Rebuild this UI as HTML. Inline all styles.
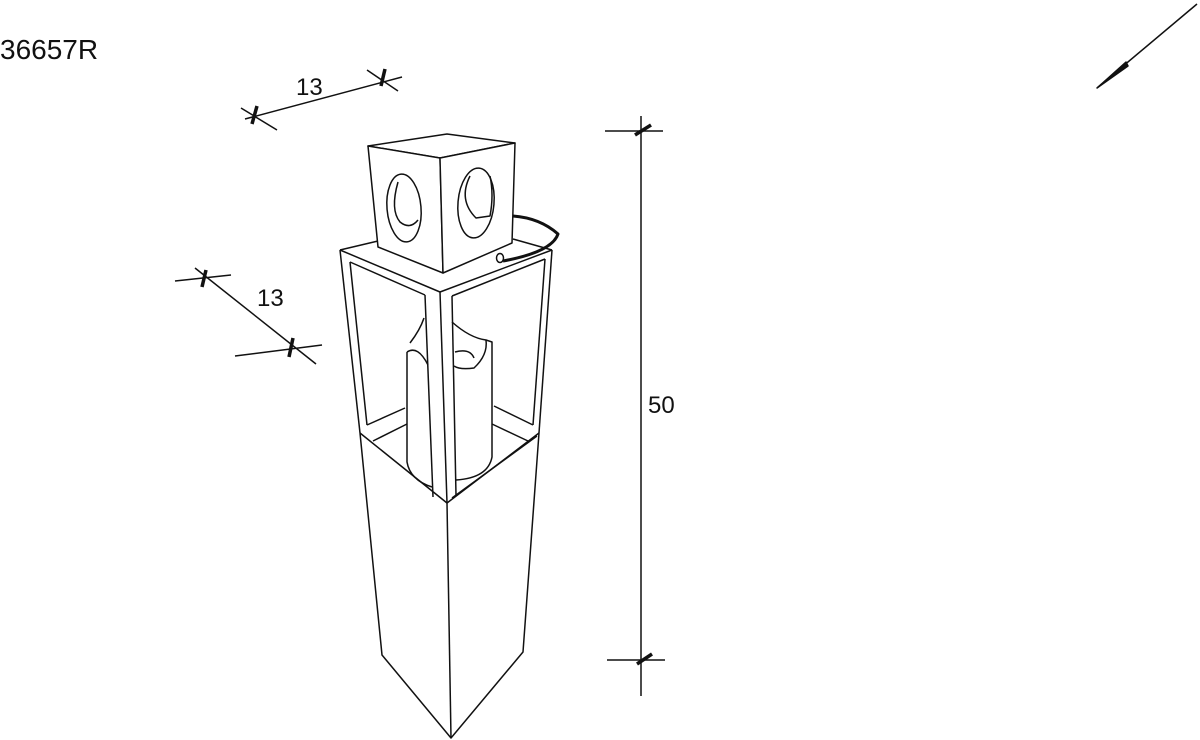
<!DOCTYPE html>
<html><head><style>
html,body{margin:0;padding:0;background:#fff;}
svg{display:block;}
text{font-family:"Liberation Sans",Arial,sans-serif;fill:#111;}
</style></head><body>
<svg width="1200" height="740" viewBox="0 0 1200 740" xmlns="http://www.w3.org/2000/svg">
<text x="0" y="59" font-size="28">36657R</text>

<g stroke="#111" stroke-width="1.5" fill="none" stroke-linejoin="round">
<line x1="1097" y1="88" x2="1197" y2="4"/>
<path d="M1097 88 L1126 62 L1128 66 Z" fill="#111"/>

<line x1="245" y1="119" x2="402" y2="77"/>
<line x1="241" y1="108" x2="277" y2="130"/>
<line x1="367" y1="70" x2="398" y2="91"/>
<line x1="257" y1="106" x2="252" y2="124" stroke-width="3.5"/>
<line x1="385" y1="69" x2="381" y2="86" stroke-width="3.5"/>
<line x1="195" y1="268" x2="316" y2="364"/>
<line x1="175" y1="281" x2="231" y2="275"/>
<line x1="235" y1="356" x2="322" y2="345"/>
<line x1="206" y1="270" x2="202" y2="287" stroke-width="3.5"/>
<line x1="293" y1="338" x2="289" y2="357" stroke-width="3.5"/>
<line x1="641" y1="116" x2="641" y2="696"/>
<line x1="605" y1="131" x2="663" y2="131"/>
<line x1="607" y1="660" x2="665" y2="660"/>
<line x1="635" y1="135" x2="651" y2="125" stroke-width="3.5"/>
<line x1="637" y1="664" x2="652" y2="654" stroke-width="3.5"/>

<path d="M340 250 L378 241"/>
<path d="M513 239 L552 250"/>
<path d="M340 250 L440 292 L552 250"/>
<path d="M340 250 L360 433"/>
<path d="M552 250 L539 433"/>
<path d="M350 262 L425 295"/>
<path d="M452 296 L545 259"/>
<path d="M350 262 L367 425"/>
<path d="M425 295 L433 497"/>
<path d="M545 259 L533 425"/>
<path d="M452 296 L456 495"/>
<path d="M440 292 L447 503"/>
<path d="M367 425 L405 408"/>
<path d="M373 441 L407 424"/>
<path d="M533 425 L494 406"/>
<path d="M528 441 L492 424"/>
<path d="M360 433 L447 503 L539 433"/>
<path d="M360 433 L382 655 L451 738 L523 652 L539 433"/>
<path d="M447 503 L451 738"/>
<path d="M452 498 L537 436"/>

<path d="M407 352 L407 462 Q410 480 432 487"/>
<path d="M407 352 Q418 345 428 365"/>
<path d="M410 343 Q420 330 424 318"/>
<path d="M452 322 Q470 338 486 340 L492 342 L492 457 Q488 478 456 480"/>
<path d="M486 340 Q488 355 474 368 Q460 370 454 366"/>
<path d="M455 352 Q470 348 474 358"/>

<path d="M368 146 L447 134 L515 143 L440 158 Z" fill="#fff"/>
<path d="M368 146 L378 247 L443 273 L440 158 Z" fill="#fff"/>
<path d="M440 158 L443 273 L512 243 L515 143 Z" fill="#fff"/>
<ellipse cx="404" cy="208" rx="17" ry="34" transform="rotate(-5 404 208)"/>
<path d="M398 182 Q390 210 400 222 Q410 230 418 220"/>
<ellipse cx="476" cy="203" rx="18" ry="35" transform="rotate(5 476 203)"/>
<path d="M470 176 Q458 200 476 218 L490 216 Q494 195 490 176"/>
<path d="M513 216 Q540 218 558 234 Q552 252 503 261" stroke-width="3"/>
<ellipse cx="500" cy="258" rx="3.5" ry="4.5"/>
</g>

<text x="296" y="95" font-size="24">13</text>
<text x="257" y="306" font-size="24">13</text>
<text x="648" y="413" font-size="24">50</text>
</svg>
</body></html>
